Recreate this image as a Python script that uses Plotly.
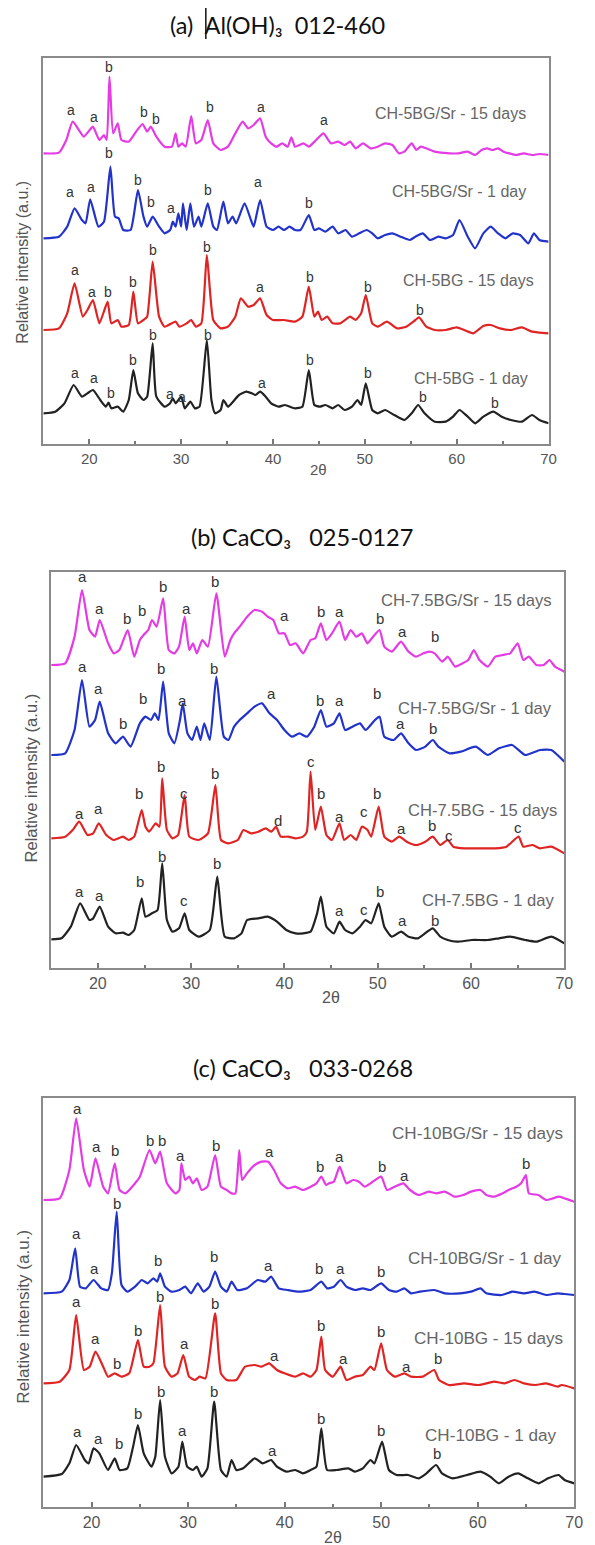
import plotly.graph_objects as go

# ---------------- data (2theta, intensity a.u. as stacked in the figure) ----------------
# Panel (a)
a_sr15 = [(15.0,872),(16.7,874),(17.5,912),(18.2,967),(19.4,922),(19.9,937),(20.4,952),(21.1,912),(21.6,927),(21.9,912),
          (22.2,1102),(22.6,932),(23.1,962),(23.5,912),(24.3,907),(25.1,937),(25.8,960),(26.3,937),(26.7,952),(27.3,922),
          (28.2,892),(29.0,892),(29.4,932),(29.7,892),(30.1,902),(30.5,892),(31.1,984),(31.6,902),(32.2,912),(32.9,972),
          (33.5,902),(34.3,882),(35.1,892),(35.9,932),(36.7,967),(37.3,947),(37.9,957),(38.6,977),(39.2,922),(39.8,902),
          (40.4,892),(41.0,902),(41.6,892),(42.0,920),(42.4,892),(43.3,902),(43.9,892),(44.7,912),(45.5,932),(46.3,902),
          (47.1,907),(47.8,897),(48.4,907),(49.0,887),(49.8,902),(50.6,887),(51.4,892),(52.2,902),(53.0,897),(53.7,872),
          (54.3,877),(55.1,902),(55.6,882),(56.1,892),(57.6,877),(59.2,872),(60.2,872),(61.2,877),(62.0,867),(62.7,882),
          (63.3,887),(63.9,882),(64.5,887),(65.1,877),(65.7,872),(66.5,867),(67.3,872),(68.2,867),(69.0,870),(70.0,867)]
a_sr1 = [(15.0,617),(16.7,622),(17.6,652),(18.4,707),(19.2,672),(19.6,662),(20.1,734),(21.0,652),(21.6,667),(22.3,832),
         (22.8,682),(23.2,677),(23.7,642),(24.5,642),(25.3,762),(25.9,682),(26.3,652),(26.9,682),(27.6,652),(28.2,632),
         (28.8,642),(29.1,667),(29.4,652),(29.7,692),(30.0,652),(30.2,722),(30.6,642),(31.0,722),(31.4,652),(31.9,682),
         (32.2,652),(32.9,722),(33.5,652),(33.9,642),(34.6,727),(35.1,662),(35.6,682),(36.0,662),(36.9,722),(37.6,672),
         (37.9,652),(38.6,732),(39.3,652),(40.0,642),(40.6,652),(41.2,642),(41.8,652),(42.4,642),(43.0,642),(43.9,687),
         (44.5,642),(45.0,647),(45.7,637),(46.5,652),(47.1,632),(47.9,642),(48.6,622),(49.4,632),(50.2,642),(50.8,632),
         (51.4,617),(52.2,627),(53.0,632),(53.9,622),(54.9,612),(55.5,622),(56.3,632),(57.1,612),(58.0,622),(58.8,617),
         (59.6,627),(60.3,672),(61.2,622),(62.0,587),(62.9,632),(63.7,652),(64.5,632),(65.3,617),(66.1,632),(66.9,627),
         (67.8,602),(68.4,632),(69.0,612),(70.0,607)]
a_bg15 = [(15.0,342),(16.7,347),(17.6,392),(18.4,482),(19.3,382),(19.8,402),(20.4,432),(21.1,362),(22.0,427),(22.4,362),
          (23.1,372),(23.5,352),(24.3,357),(24.8,457),(25.3,362),(25.9,372),(26.3,382),(26.9,547),(27.6,382),(28.2,352),
          (29.4,367),(29.8,352),(30.6,362),(31.1,372),(31.6,352),(32.2,362),(32.8,567),(33.5,372),(34.3,347),(35.1,352),
          (35.9,382),(36.5,437),(37.3,412),(37.9,417),(38.6,437),(39.3,387),(40.0,372),(41.2,372),(42.4,367),(43.2,382),
          (43.9,472),(44.5,382),(44.9,397),(45.3,372),(45.9,382),(46.5,362),(47.3,362),(48.4,382),(49.0,372),(49.6,392),
          (50.1,447),(50.8,362),(51.4,352),(52.4,367),(53.5,347),(54.5,352),(55.5,372),(55.9,380),(56.7,352),(57.6,342),
          (58.8,342),(60.0,350),(60.8,342),(61.8,332),(62.9,354),(63.7,357),(64.7,347),(65.9,342),(67.1,350),(68.2,337),
          (70.0,332)]
a_bg1 = [(15.0,92),(16.3,97),(17.3,122),(18.3,177),(19.2,142),(19.8,152),(20.4,162),(21.2,132),(21.8,112),(22.1,124),
         (22.4,107),(23.1,112),(23.7,97),(24.3,132),(24.8,222),(25.3,152),(25.9,132),(26.3,142),(26.9,302),(27.3,142),
         (28.2,112),(28.8,122),(29.1,137),(29.4,122),(30.0,142),(30.4,107),(31.0,127),(31.5,107),(32.0,112),(32.8,312),
         (33.3,132),(33.7,92),(34.3,102),(34.6,132),(35.1,112),(35.5,122),(36.3,147),(37.1,157),(37.7,152),(38.1,147),
         (38.6,157),(39.2,142),(39.8,122),(40.6,112),(41.3,117),(42.4,107),(43.2,112),(43.9,222),(44.5,117),(45.1,112),
         (45.7,117),(46.5,107),(47.1,117),(47.8,102),(48.6,112),(49.2,132),(49.6,117),(50.1,182),(50.8,102),(51.4,92),
         (52.2,102),(53.2,87),(54.3,72),(55.1,92),(55.8,117),(56.5,92),(57.6,67),(58.8,67),(59.6,82),(60.3,102),
         (61.2,82),(62.0,62),(62.9,82),(64.0,97),(64.9,82),(65.9,72),(67.1,67),(68.2,87),(69.0,72),(70.0,62)]

# Panel (b)
b_sr15 = [(15.0,909),(16.5,914),(17.5,994),(18.3,1134),(19.1,1014),(19.7,994),(20.2,1044),(21.1,974),(21.7,944),(22.3,954),
          (23.2,1014),(23.9,934),(24.5,984),(24.9,999),(25.4,1014),(25.8,1044),(26.3,1024),(27.0,1109),(27.6,954),(28.2,944),
          (28.7,964),(29.3,1054),(29.8,954),(30.2,974),(30.6,944),(31.2,984),(31.8,964),(32.7,1124),(33.6,934),(34.2,984),
          (34.6,1004),(35.2,1024),(36.0,1054),(36.8,1074),(37.6,1069),(38.2,1054),(38.8,1044),(39.4,1004),(40.0,1004),(40.6,969),
          (41.2,974),(42.0,944),(42.8,984),(43.3,989),(43.9,1034),(44.5,984),(45.1,1004),(45.9,1039),(46.5,984),(47.1,1014),
          (47.7,994),(48.3,1004),(48.9,974),(49.5,994),(50.2,1014),(50.7,964),(51.5,949),(52.5,979),(53.3,949),(54.1,934),
          (54.9,944),(55.5,949),(56.1,944),(56.9,919),(57.5,934),(58.3,904),(59.1,914),(59.7,924),(60.3,954),(60.9,924),
          (61.8,904),(62.6,934),(63.4,939),(64.2,944),(65.0,974),(65.6,924),(66.2,934),(67.0,909),(67.8,909),(68.4,924),
          (69.0,904),(70.0,889)]
b_sr1 = [(15.0,639),(16.5,644),(17.5,714),(18.3,864),(19.1,724),(19.7,744),(20.2,799),(21.1,704),(21.9,674),(22.7,694),
         (23.5,664),(24.5,734),(25.1,754),(25.7,744),(26.1,764),(26.5,744),(27.0,859),(27.6,704),(28.2,674),(28.8,744),
         (29.1,794),(29.6,704),(30.1,684),(30.6,724),(31.0,684),(31.4,734),(32.0,684),(32.7,874),(33.5,694),(34.0,684),
         (34.6,724),(35.2,744),(36.0,764),(36.8,784),(37.6,794),(38.4,764),(39.2,744),(40.0,714),(40.8,694),(41.6,704),
         (42.4,694),(43.2,724),(43.9,774),(44.5,724),(45.3,734),(45.9,764),(46.5,714),(47.3,724),(48.1,734),(48.7,714),
         (49.7,744),(50.2,754),(50.7,694),(51.7,684),(52.5,704),(53.3,674),(54.1,654),(55.1,664),(55.9,684),(56.5,664),
         (57.7,644),(58.9,649),(60.5,664),(61.8,639),(63.0,659),(64.4,669),(65.8,639),(67.4,654),(68.6,654),(70.0,619)]
b_bg15 = [(15.0,389),(16.5,394),(17.3,414),(18.0,439),(18.9,399),(19.5,404),(20.1,434),(20.9,399),(21.7,384),(22.7,394),
          (23.3,384),(23.9,394),(24.7,474),(25.1,424),(25.5,409),(26.2,434),(26.6,424),(26.9,569),(27.4,414),(28.0,389),
          (28.6,399),(29.3,519),(29.8,394),(30.8,384),(31.8,404),(32.6,549),(33.2,384),(34.0,374),(35.0,384),(35.6,414),
          (36.4,404),(37.2,409),(38.0,419),(38.6,409),(39.1,424),(39.6,394),(40.4,394),(41.2,389),(42.0,394),(42.4,409),
          (42.8,589),(43.3,414),(43.9,484),(44.5,399),(45.1,384),(45.9,434),(46.4,384),(47.1,399),(47.7,384),(48.3,424),
          (48.9,414),(49.3,394),(50.1,484),(50.7,394),(51.5,379),(52.3,394),(53.1,379),(54.1,369),(55.1,379),(55.9,394),
          (56.7,369),(57.5,384),(58.1,364),(59.3,359),(60.9,359),(62.6,359),(63.8,364),(65.1,394),(65.6,364),(66.6,369),
          (67.4,359),(68.6,364),(70.0,344)]
b_bg1 = [(15.0,86),(16.1,89),(17.1,124),(18.1,194),(19.1,144),(19.5,149),(20.2,184),(21.1,124),(21.9,104),(22.7,106),
         (23.3,99),(23.9,114),(24.7,209),(25.1,154),(25.8,164),(26.4,174),(26.9,314),(27.4,144),(28.0,109),(28.7,119),
         (29.3,164),(29.8,114),(30.8,94),(32.0,114),(32.8,274),(33.6,94),(34.6,89),(35.4,104),(36.0,144),(37.2,149),
         (38.2,154),(39.2,139),(40.2,114),(41.2,104),(42.0,104),(42.8,109),(43.5,164),(43.9,214),(44.5,124),(45.3,104),
         (45.9,139),(46.5,114),(47.3,104),(48.1,124),(48.7,144),(49.3,134),(50.1,194),(50.7,124),(51.5,94),(52.5,109),
         (53.3,94),(54.3,89),(55.9,119),(56.7,94),(57.5,84),(58.5,79),(60.1,84),(61.8,84),(63.0,89),(64.2,94),
         (65.8,84),(67.0,79),(68.6,94),(70.0,74)]

# Panel (c)
c_sr15 = [(15.0,921),(16.7,926),(17.7,1011),(18.4,1166),(19.2,1011),(19.8,961),(20.4,1046),(21.2,961),(21.7,941),(22.4,1031),
          (22.9,951),(23.5,941),(24.5,971),(25.0,991),(26.0,1071),(26.6,1031),(27.1,1066),(27.8,971),(28.7,941),(29.1,951),
          (29.3,1031),(29.7,981),(30.1,991),(30.5,971),(30.9,986),(31.4,951),(32.0,961),(32.8,1056),(33.4,961),(34.0,951),
          (34.5,941),(34.9,941),(35.3,1071),(35.6,981),(36.1,1001),(36.9,1026),(37.6,1036),(38.3,1036),(38.9,1011),(39.6,971),
          (40.3,956),(41.1,961),(41.9,951),(42.7,961),(43.3,971),(43.8,991),(44.3,966),(44.6,971),(45.1,976),(45.7,1021),
          (46.4,971),(47.1,981),(47.7,976),(48.3,961),(48.9,971),(50.0,991),(50.6,951),(51.4,961),(52.3,971),(53.0,951),
          (53.9,936),(54.9,946),(55.7,941),(56.6,946),(57.6,931),(58.5,936),(59.3,946),(60.3,951),(60.9,936),(61.7,931),
          (62.6,941),(63.2,951),(64.0,961),(64.5,971),(65.0,996),(65.3,941),(66.3,936),(67.1,921),(67.8,926),(68.4,931),
          (69.0,926),(70.0,916)]
c_sr1 = [(15.0,641),(16.9,646),(17.7,681),(18.3,776),(18.8,661),(19.4,656),(20.2,681),(21.0,656),(21.7,651),(22.1,701),
         (22.6,886),(23.1,666),(23.7,646),(24.5,661),(25.2,681),(25.8,671),(26.4,686),(26.8,676),(27.1,701),(27.6,661),
         (28.3,646),(29.1,651),(29.7,661),(30.3,641),(31.0,671),(31.6,646),(32.2,661),(32.8,706),(33.4,661),(34.0,646),
         (34.5,676),(35.1,651),(36.1,656),(37.2,681),(38.0,676),(38.6,691),(39.4,656),(40.3,651),(41.5,646),(42.7,651),
         (43.8,676),(44.4,656),(45.1,661),(45.8,681),(46.4,661),(47.3,651),(48.1,656),(48.9,651),(50.0,671),(50.8,651),
         (51.6,646),(52.4,656),(53.1,641),(54.0,646),(55.5,651),(56.6,641),(58.2,641),(59.3,646),(60.3,656),(60.9,641),
         (62.5,636),(63.6,646),(64.8,641),(65.9,646),(67.1,636),(68.3,641),(69.0,639),(70.0,636)]
c_bg15 = [(15.0,371),(16.7,376),(17.7,411),(18.4,576),(19.2,411),(19.8,421),(20.4,466),(21.2,421),(21.7,391),(22.4,401),
          (23.1,391),(23.9,401),(24.8,501),(25.4,421),(26.0,421),(26.4,431),(27.1,606),(27.6,421),(28.3,391),(28.9,401),
          (29.5,456),(30.1,391),(30.7,381),(31.2,391),(31.8,386),(32.8,581),(33.4,401),(34.0,381),(35.0,381),(35.9,421),
          (36.9,426),(37.6,421),(38.4,431),(39.2,411),(40.0,401),(41.1,391),(41.9,401),(42.7,391),(43.3,411),(43.8,511),
          (44.2,411),(45.0,391),(45.8,421),(46.4,381),(47.3,391),(48.1,396),(48.9,421),(49.3,411),(50.0,491),(50.6,411),
          (51.4,391),(52.4,401),(53.1,391),(54.3,391),(55.5,411),(56.0,381),(57.0,366),(58.6,371),(60.1,366),(61.7,376),
          (62.8,371),(63.8,381),(64.8,371),(66.0,366),(67.1,371),(68.3,361),(68.7,366),(70.0,356)]
c_bg1 = [(15.0,91),(16.9,99),(17.7,131),(18.4,186),(19.3,141),(19.7,131),(20.2,176),(20.8,161),(21.7,111),(22.4,146),
         (22.9,111),(23.7,116),(24.3,181),(24.8,246),(25.4,161),(26.2,121),(26.6,151),(27.1,321),(27.6,151),(28.3,101),
         (29.0,121),(29.4,196),(29.9,121),(30.5,111),(30.9,121),(31.4,91),(32.0,116),(32.7,316),(33.4,111),(34.0,91),
         (34.5,141),(35.0,111),(35.7,116),(36.9,146),(37.7,131),(38.6,141),(39.2,121),(40.2,106),(41.1,111),(41.9,101),
         (42.7,111),(43.3,121),(43.8,236),(44.4,111),(45.4,111),(46.6,116),(47.3,106),(48.1,116),(48.9,141),(49.3,131),
         (50.1,196),(50.8,111),(51.6,96),(52.8,96),(53.9,86),(54.7,101),(55.7,126),(56.3,101),(57.4,86),(58.9,96),
         (60.3,106),(61.3,91),(62.2,71),(63.2,91),(64.2,101),(65.2,86),(66.3,71),(67.3,86),(68.4,96),(69.0,81),(70.0,71)]

# peak markers (letter, 2theta, label height)
a_sr15_pk = [("a",18.0,1002),("a",20.5,980),("b",22.2,1132),("b",26.0,995),("b",27.3,975),("b",33.1,1012),("a",38.7,1012),("a",45.6,972)]
a_sr1_pk = [("a",17.9,757),("a",20.2,772),("b",22.2,872),("b",25.3,792),("b",26.7,727),("a",28.9,707),("b",32.9,762),("a",38.4,787),("b",43.9,722)]
a_bg15_pk = [("a",18.4,522),("a",20.3,457),("b",22.0,457),("b",24.8,487),("b",26.9,582),("b",32.8,592),("a",38.6,472),("b",44.0,502),("b",50.3,472),("b",56.0,402)]
a_bg1_pk = [("a",18.4,212),("a",20.5,197),("b",22.4,152),("b",24.8,252),("b",26.9,327),("a",28.8,150),("a",30.1,142),("b",32.9,327),("a",38.8,182),("b",44.0,252),("b",50.3,212),("b",56.3,142),("b",64.2,122)]

b_sr15_pk = [("a",18.4,1174),("a",20.2,1079),("b",23.1,1049),("b",24.7,1074),("b",27.0,1144),("a",29.5,1079),("b",32.6,1159),("a",40.0,1059),("b",43.9,1069),("a",45.9,1069),("b",50.2,1049),("a",52.7,1009),("b",56.1,994)]
b_sr1_pk = [("a",18.4,904),("a",20.1,839),("b",22.7,734),("b",24.8,809),("b",26.8,899),("a",29.1,804),("b",32.5,899),("a",38.6,824),("b",43.8,804),("a",45.9,804),("b",49.9,824),("a",52.4,734),("b",55.9,719)]
b_bg15_pk = [("a",18.0,464),("a",20.1,479),("b",24.4,524),("b",26.8,604),("c",29.2,524),("b",32.6,584),("d",39.3,444),("c",42.8,619),("b",43.9,524),("a",45.9,454),("c",48.5,469),("b",49.9,524),("a",52.5,419),("b",55.8,429),("c",57.6,399),("c",65.0,422)]
b_bg1_pk = [("a",18.0,229),("a",20.2,219),("b",24.5,259),("b",26.9,334),("c",29.2,204),("b",32.8,314),("a",45.9,174),("c",48.5,176),("b",50.2,229),("a",52.7,144),("b",56.1,144)]

c_sr15_pk = [("a",18.5,1196),("a",20.5,1081),("b",22.4,1071),("b",26.1,1101),("b",27.3,1101),("a",29.2,1056),("b",32.9,1086),("a",38.4,1066),("b",43.7,1021),("a",45.7,1051),("b",50.1,1021),("a",52.4,996),("b",65.0,1031)]
c_sr1_pk = [("a",18.4,821),("a",20.3,716),("b",22.6,911),("b",26.9,741),("b",32.7,751),("a",38.3,726),("b",43.6,716),("a",45.8,716),("b",50.0,706)]
c_bg15_pk = [("a",18.4,616),("a",20.4,506),("b",22.6,431),("b",24.8,531),("b",27.1,631),("a",29.6,491),("b",32.8,611),("a",39.0,456),("b",43.8,546),("a",46.1,446),("b",50.0,526),("a",52.6,421),("b",55.9,446)]
c_bg1_pk = [("a",18.5,226),("a",20.7,206),("b",22.8,191),("b",24.8,281),("b",27.2,346),("a",29.4,231),("b",32.7,346),("a",38.7,171),("b",43.8,266),("b",50.0,231),("b",55.8,161)]

# sample names: (text, right end 2theta, height)
a_names = [("CH-5BG/Sr - 15 days",67.8,992),("CH-5BG/Sr - 1 day",67.8,757),("CH-5BG - 15 days",68.6,492),("CH-5BG - 1 day",68.0,197)]
b_names = [("CH-7.5BG/Sr - 15 days",68.9,1104),("CH-7.5BG/Sr - 1 day",68.9,779),("CH-7.5BG - 15 days",69.4,474),("CH-7.5BG - 1 day",69.2,204)]
c_names = [("CH-10BG/Sr - 15 days",69.0,1121),("CH-10BG/Sr - 1 day",68.8,746),("CH-10BG - 15 days",69.0,506),("CH-10BG - 1 day",68.4,216)]

panel_titles = ["(a)\u00a0\u00a0Al(OH)\u2083\u00a0\u00a0012-460",
                "(b) CaCO\u2083\u00a0\u00a0\u00a0025-0127",
                "(c) CaCO\u2083\u00a0\u00a0\u00a0033-0268"]
x_ticks = [20, 30, 40, 50, 60, 70]

colors = ["#e53be5", "#2233cc", "#e02424", "#222222"]

# ---------------- layout geometry (pixels in 595x1545 page) ----------------
W, H = 595, 1545
panels = [
    dict(x0=44, x1=557, y0=58, y1=444, ymax=1158, scale=1.0, title_x=282, title_y=25, ylab_x=22, ylab_y=262, tt_y=470),
    dict(x0=52, x1=573, y0=572, y1=968, ymax=1188, scale=1.04, title_x=307, title_y=537, ylab_x=31, ylab_y=778, tt_y=997),
    dict(x0=44, x1=583, y0=1098, y1=1507, ymax=1227, scale=1.07, title_x=308, title_y=1068, ylab_x=23, ylab_y=1317, tt_y=1537),
]
series = [[a_sr15, a_sr1, a_bg15, a_bg1], [b_sr15, b_sr1, b_bg15, b_bg1], [c_sr15, c_sr1, c_bg15, c_bg1]]
peaks = [[a_sr15_pk, a_sr1_pk, a_bg15_pk, a_bg1_pk], [b_sr15_pk, b_sr1_pk, b_bg15_pk, b_bg1_pk],
         [c_sr15_pk, c_sr1_pk, c_bg15_pk, c_bg1_pk]]
names = [a_names, b_names, c_names]

fig = go.Figure()
annotations = []
shapes = []
FONT = "Liberation Sans"

for i, p in enumerate(panels):
    n = "" if i == 0 else str(i + 1)
    xa, ya = "x" + n, "y" + n
    s = p["scale"]
    for data, col in zip(series[i], colors):
        fig.add_trace(go.Scatter(x=[d[0] for d in data], y=[d[1] for d in data], mode="lines",
                                 line=dict(color=col, width=2.2, shape="spline", smoothing=0.5),
                                 xaxis=xa, yaxis=ya, showlegend=False, hoverinfo="skip"))
    for pk in peaks[i]:
        for letter, xx, yy in pk:
            annotations.append(dict(x=xx, y=yy, xref=xa, yref=ya, text=letter, showarrow=False,
                                    font=dict(family=FONT, size=round(14 * s), color="#333"),
                                    xanchor="center", yanchor="middle"))
    for txt, xx, yy in names[i]:
        annotations.append(dict(x=xx, y=yy, xref=xa, yref=ya, text=txt, showarrow=False,
                                font=dict(family=FONT, size=round(16 * s, 1), color="#666"),
                                xanchor="right", yanchor="middle"))
    annotations.append(dict(x=45, y=1 - p["tt_y"] / H, xref=xa, yref="paper", text="2θ", showarrow=False,
                            font=dict(family=FONT, size=round(15 * s), color="#555"), xanchor="center", yanchor="middle"))
    annotations.append(dict(x=p["ylab_x"] / W, y=1 - p["ylab_y"] / H, xref="paper", yref="paper",
                            text="Relative intensity (a.u.)", textangle=-90, showarrow=False,
                            font=dict(family=FONT, size=round(16 * s, 1), color="#555"), xanchor="center", yanchor="middle"))
    annotations.append(dict(x=p["title_x"] / W, y=1 - p["title_y"] / H, xref="paper", yref="paper",
                            text=panel_titles[i], showarrow=False,
                            font=dict(family="Lato", size=23.5, color="#111"), xanchor="center", yanchor="middle"))

    axis_common = dict(showline=True, linecolor="#8a8a8a", linewidth=2, mirror=True, showgrid=False, zeroline=False)
    fig.update_layout(**{
        "xaxis" + n: dict(domain=[p["x0"] / W, p["x1"] / W], anchor=ya, range=[15, 70], tickvals=x_ticks,
                          ticks="inside", ticklen=5, tickwidth=1.5, tickcolor="#777",
                          tickfont=dict(family=FONT, size=round(15 * s), color="#555"),
                          minor=dict(tick0=15, dtick=5, ticks="inside", ticklen=3, tickcolor="#777", tickwidth=1.5),
                          **axis_common),
        "yaxis" + n: dict(domain=[1 - p["y1"] / H, 1 - p["y0"] / H], anchor=xa, range=[0, p["ymax"]],
                          showticklabels=False, ticks="", **axis_common),
    })

# text cursor bar in the first title
shapes.append(dict(type="line", xref="paper", yref="paper", x0=209 / W, x1=209 / W, y0=1 - 39 / H, y1=1 - 8 / H,
                   line=dict(color="#111", width=1.5)))

fig.update_layout(width=W, height=H, margin=dict(l=0, r=0, t=0, b=0), paper_bgcolor="white", plot_bgcolor="white",
                  annotations=annotations, shapes=shapes, showlegend=False)
fig.write_html("out.html")
